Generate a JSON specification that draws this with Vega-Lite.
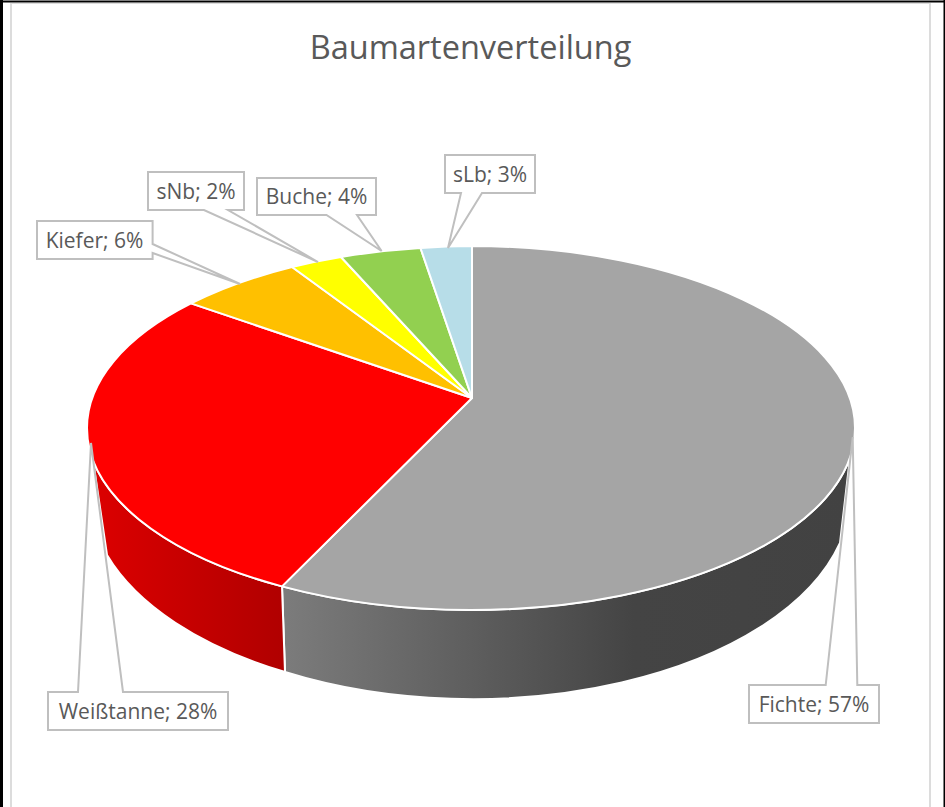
{
"$schema":"https://vega.github.io/schema/vega-lite/v6.json",
"width":945,"height":807,"padding":0,"autosize":"none","background":"white",
"title":{"text":"Baumartenverteilung","fontSize":32.5,"font":"Open Sans","fontWeight":"normal","color":"#595959","anchor":"middle","offset":-65,"dx":-2},
"config":{"view":{"stroke":null}},
"resolve":{"scale":{"shape":"independent"}},
"data":{"values":[
{"species":"Fichte","share":57},
{"species":"Weißtanne","share":28},
{"species":"Kiefer","share":6},
{"species":"sNb","share":2},
{"species":"Buche","share":4},
{"species":"sLb","share":3}
]},
"transform":[{"calculate":"datum.species + '; ' + datum.share + '%'","as":"label"}],
"layer":[
{"transform":[{"filter":"datum.species === 'Fichte'"}],
 "mark":{"type":"point","filled":true,"opacity":1,"size":4,"stroke":null,"shape":"M-472.5,-403.5 L-469.5,-403.5 L-469.5,403.5 L-472.5,403.5 Z M-472.5,-403 L472.5,-403 L472.5,-401 L-472.5,-401 Z M471,-403.5 L472.5,-403.5 L472.5,403.5 L471,403.5 Z"},
 "encoding":{"fill":{"value":"#000000"}}},
{"transform":[{"filter":"datum.species === 'Fichte'"}],
 "mark":{"type":"point","filled":true,"opacity":1,"size":4,"stroke":null,"shape":"M-462.5,-400.5 L-460.5,-400.5 L-460.5,403.5 L-462.5,403.5 Z M-462.5,-400.5 L458.5,-400.5 L458.5,-399.5 L-462.5,-399.5 Z M456.5,-400.5 L458.5,-400.5 L458.5,403.5 L456.5,403.5 Z"},
 "encoding":{"fill":{"value":"#dcdcdc"}}},
{"transform":[{"filter":"datum.species === 'Fichte'"}],
 "mark":{"type":"point","filled":true,"opacity":1,"size":4,"stroke":"white","strokeWidth":2,
  "fill":{"gradient":"linear","x1":0,"y1":0,"x2":1,"y2":0,"stops":[{"offset":0,"color":"#7c7c7c"},{"offset":0.62,"color":"#444444"},{"offset":1,"color":"#424242"}]},
  "shape":"M377.5,53.8 A384,182 0 0 1 -1.5,206.5 A384,182 0 0 1 -190.5,182.9 L-187.5,268.5 A378,205 0 0 0 367.5,139.5 Z"}},
{"transform":[{"filter":"datum.species === 'Weißtanne'"}],
 "mark":{"type":"point","filled":true,"opacity":1,"size":4,"stroke":"white","strokeWidth":2,
  "fill":{"gradient":"linear","x1":0,"y1":0,"x2":1,"y2":0,"stops":[{"offset":0,"color":"#dc0000"},{"offset":1,"color":"#b00000"}]},
  "shape":"M-190.5,182.9 A384,182 0 0 1 -379.5,56.5 L-365.5,151.5 A378,205 0 0 0 -187.5,268.5 Z"}},
{"mark":{"type":"point","filled":true,"opacity":1,"size":4,"stroke":"white","strokeWidth":2,"strokeJoin":"round"},
 "encoding":{
  "color":{"field":"species","type":"nominal","legend":null,"scale":{"domain":["Fichte","Weißtanne","Kiefer","sNb","Buche","sLb"],"range":["#a5a5a5","#ff0000","#ffc000","#ffff00","#92d050","#b7dde8"]}},
  "shape":{"field":"species","type":"nominal","legend":null,"scale":{"domain":["Fichte","Weißtanne","Kiefer","sNb","Buche","sLb"],"range":[
   "M-0.5,-5.5 L-0.5,-157.5 A384,182 0 0 1 382.5,24.5 A384,182 0 0 1 -1.5,206.5 A384,182 0 0 1 -190.5,182.9 Z",
   "M-0.5,-5.5 L-190.5,182.9 A384,182 0 0 1 -385.5,24.5 A384,182 0 0 1 -281.5,-100.1 Z",
   "M-0.5,-5.5 L-281.5,-100.1 A384,182 0 0 1 -180.5,-136.5 Z",
   "M-0.5,-5.5 L-180.5,-136.5 A384,182 0 0 1 -131.5,-146.5 Z",
   "M-0.5,-5.5 L-131.5,-146.5 A384,182 0 0 1 -52,-155.5 Z",
   "M-0.5,-5.5 L-52,-155.5 A384,182 0 0 1 -0.5,-157.5 Z"]}}
 }},
{"mark":{"type":"point","filled":false,"opacity":1,"size":4,"stroke":"#bfbfbf","strokeWidth":2,"strokeJoin":"miter"},
 "encoding":{
  "shape":{"field":"species","type":"nominal","legend":null,"scale":{"domain":["Fichte","Weißtanne","Kiefer","sNb","Buche","sLb"],"range":[
   "M276.5,281.5 L353.2,281.5 L380.2,33.5 L384.8,281.5 L406.5,281.5 L406.5,319.5 L276.5,319.5 Z",
   "M-424.5,288.5 L-394.5,288.5 L-381.5,39.5 L-349.5,288.5 L-244.5,288.5 L-244.5,326.5 L-424.5,326.5 Z",
   "M-435.5,-182.5 L-319.9,-182.5 L-319.9,-159.5 L-232.5,-119.5 L-319.9,-150.5 L-319.9,-144.5 L-435.5,-144.5 Z",
   "M-324.5,-231.5 L-228.5,-231.5 L-228.5,-193.5 L-244.5,-193.5 L-154.5,-141.5 L-268.5,-193.5 L-324.5,-193.5 Z",
   "M-215.5,-225.5 L-96.5,-225.5 L-96.5,-188.5 L-115.5,-188.5 L-90.9,-152.5 L-146,-188.5 L-215.5,-188.5 Z",
   "M-27.5,-248.5 L62.5,-248.5 L62.5,-210.5 L9.5,-210.5 L-24.5,-155.5 L-11.5,-210.5 L-27.5,-210.5 Z"]}}
 }},
{"transform":[{"filter":"datum.species === 'Fichte'"}],"mark":{"type":"text","dx":341.5,"dy":302,"fontSize":21,"font":"Open Sans","fill":"#595959"},"encoding":{"text":{"field":"label"}}},
{"transform":[{"filter":"datum.species === 'Weißtanne'"}],"mark":{"type":"text","dx":-334.5,"dy":309,"fontSize":21,"font":"Open Sans","fill":"#595959"},"encoding":{"text":{"field":"label"}}},
{"transform":[{"filter":"datum.species === 'Kiefer'"}],"mark":{"type":"text","dx":-378,"dy":-162,"fontSize":21,"font":"Open Sans","fill":"#595959"},"encoding":{"text":{"field":"label"}}},
{"transform":[{"filter":"datum.species === 'sNb'"}],"mark":{"type":"text","dx":-276.5,"dy":-211,"fontSize":21,"font":"Open Sans","fill":"#595959"},"encoding":{"text":{"field":"label"}}},
{"transform":[{"filter":"datum.species === 'Buche'"}],"mark":{"type":"text","dx":-156,"dy":-205.5,"fontSize":21,"font":"Open Sans","fill":"#595959"},"encoding":{"text":{"field":"label"}}},
{"transform":[{"filter":"datum.species === 'sLb'"}],"mark":{"type":"text","dx":17.5,"dy":-228,"fontSize":21,"font":"Open Sans","fill":"#595959"},"encoding":{"text":{"field":"label"}}}
]
}
